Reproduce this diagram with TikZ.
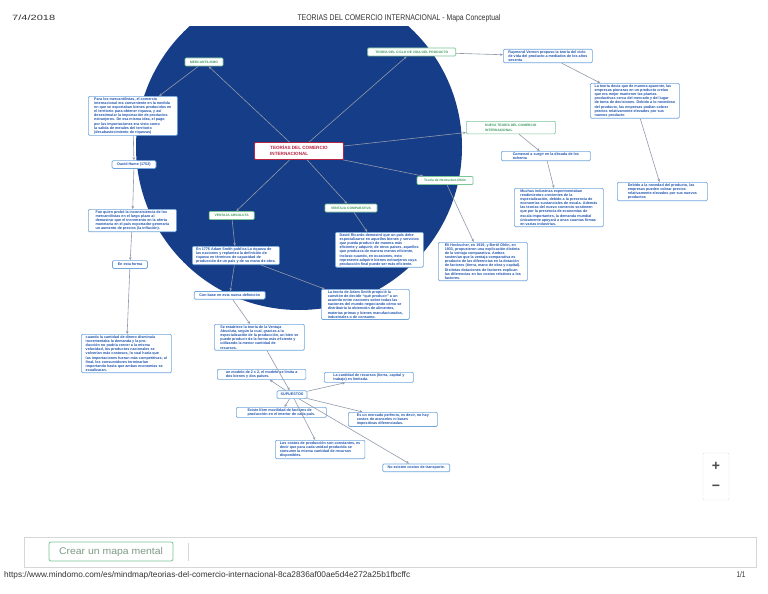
\documentclass[tikz,border=0pt]{standalone}
\usepackage{fontspec}
\setmainfont{Liberation Sans}
\usetikzlibrary{arrows.meta}
\definecolor{circ}{HTML}{163D87}
\definecolor{boxc}{HTML}{6FA6DE}
\definecolor{txtc}{HTML}{1F55B0}
\definecolor{grc}{HTML}{7CC596}
\definecolor{grt}{HTML}{3A9A5E}
\definecolor{redc}{HTML}{B82543}
\definecolor{lnc}{HTML}{9199AA}
\definecolor{hdr}{HTML}{333333}
\definecolor{barc}{HTML}{D6D6D6}
\definecolor{btnt}{HTML}{7E9A87}
\begin{document}
\begin{tikzpicture}[x=1pt,y=-1pt,
  bx/.style={draw=boxc, fill=white, rounded corners=1.2pt, line width=0.7pt,
    font=\fontsize{3.7}{4.15}\selectfont\bfseries, text=txtc, align=left,
    inner xsep=2.2pt, inner ysep=1.2pt, anchor=north west, minimum width=#1},
  bx/.default=80,
  bxs/.style={bx=#1, anchor=center, align=center, minimum height=7.8pt},
  gl/.style={draw=grc, fill=white, rounded corners=1pt, line width=0.7pt,
    font=\fontsize{3.3}{4.1}\selectfont\bfseries, text=grt, align=center,
    minimum width=#1, minimum height=8pt, inner sep=1pt},
  cn/.style={draw=lnc, line width=0.6pt, -{Stealth[length=3pt,width=2.6pt]}},
]
\useasboundingbox (0,0) rectangle (768,594);
\fill[white] (0,0) rectangle (768,594);
\begin{scope}
  \clip (0,27) rectangle (768,594);
  \fill[circ] (299,147) circle[radius=163pt];
\end{scope}

% header / footer
\node[anchor=west, text=hdr, inner sep=0] (date) at (12,18) {\resizebox{43pt}{5.5pt}{7/4/2018}};
\node[text=hdr, inner sep=0] (title) at (399,18) {\resizebox{203pt}{6pt}{TEORIAS DEL COMERCIO INTERNACIONAL - Mapa Conceptual}};
\node[anchor=west, text=hdr, inner sep=0] (url) at (4,575) {\resizebox{406pt}{6pt}{https://www.mindomo.com/es/mindmap/teorias-del-comercio-internacional-8ca2836af00ae5d4e272a25b1fbcffc}};
\node[text=hdr, inner sep=0] (pg) at (741,575) {\resizebox{9pt}{6pt}{1/1}};

\draw[barc, line width=0.8pt] (24,537) rectangle (756,567);
\node[draw=grc, rounded corners=2pt, line width=0.8pt, minimum width=124pt, minimum height=19pt, inner sep=0, text=btnt] (btn) at (111,551.5) {\resizebox{104pt}{7pt}{Crear un mapa mental}};
\draw[barc, line width=0.8pt] (188,543) -- (188,561);

\draw[black!12, fill=white, rounded corners=1pt] (703,453) rectangle (729,500);
\node[text=black!70, font=\fontsize{14}{14}\selectfont\bfseries] (plus) at (716,466) {+};
\node[text=black!70, font=\fontsize{14}{14}\selectfont\bfseries] (minus) at (716,488) {−};

% central
\node[draw=redc, fill=white, line width=0.9pt, rounded corners=1pt, text=redc,
  font=\fontsize{4.6}{6}\selectfont\bfseries, align=left, anchor=north west,
  minimum width=89pt, minimum height=17pt, inner xsep=4pt] (central) at (254,142)
  {TEORÍAS DEL COMERCIO\\INTERNACIONAL};

% green labels
\node[gl=38] (merc) at (204,62) {MERCANTILISMO};
\node[gl=88] (ciclo) at (411.7,52) {TEORÍA DEL CICLO DE VIDA DEL PRODUCTO};
\node[gl=89, anchor=north west, align=left, minimum height=12.5pt, inner xsep=3pt] (nueva) at (466,121) {NUEVA TEORÍA DEL COMERCIO\\INTERNACIONAL};
\node[gl=56] (heck) at (445,180.5) {Teoría de Heckscher-Ohlin};
\node[gl=45] (vabs) at (231.7,215.5) {VENTAJA ABSOLUTA};
\node[gl=52] (vcomp) at (351,208) {VENTAJA COMPARATIVA};

% blue boxes
\node[bx=89] (paralos) at (88,96) {Para los mercantilistas, el comercio\\
internacional era conveniente en la medida\\
en que se exportaban bienes producidos en\\
el territorio para obtener riqueza, y así\\
desestimular la importación de productos\\
extranjeros. De esa misma idea, el pago\\
por las importaciones era visto como\\
la salida de metales del territorio\\
(desabastecimiento de riquezas)};
\node[bxs=44] (hume) at (134,164.5) {David Hume (1752)};
\node[bx=88] (fue) at (88,209) {Fue quien probó la inconsistencia de los\\
mercantilistas en el largo plazo al\\
demostrar que el incremento en la oferta\\
monetaria en el país exportador generaría\\
un aumento de precios (la inflación).};
\node[bxs=35] (forma) at (130,264.5) {En esta forma};
\node[bx=90] (cuando) at (81,334) {cuando la cantidad de dinero disminuía\\
incrementaba la demanda y la pro-\\
ducción no podría crecer a la misma\\
velocidad, los productos nacionales se\\
volverían más costosos, lo cual haría que\\
las importaciones fueran más competitivas; al\\
final, los consumidores terminarían\\
importando hasta que ambas economías se\\
ecualizaran.};

\node[bx=89] (raymond) at (503,49) {Raymond Vernon propuso la teoría del ciclo\\
de vida del producto a mediados de los años\\
sesenta};
\node[bx=89] (decia) at (590,83) {La teoría decía que de manera aparente, las\\
empresas pioneras en un producto creían\\
que era mejor mantener las plantas\\
productivas cerca del mercado y del lugar\\
de toma de decisiones. Debido a lo novedoso\\
del producto, las empresas podían cobrar\\
precios relativamente elevados por sus\\
nuevos producto};
\node[bx=90] (debido) at (617,182) {Debido a la novedad del producto, las\\
empresas pueden cobrar precios\\
relativamente elevados por sus nuevos\\
productos};

\node[bx=89] (comenzo) at (501,151) {Comenzó a surgir en la década de los\\ochenta};
\node[bx=89] (muchas) at (514,188) {Muchas industrias experimentaban\\
rendimientos crecientes de la\\
especialización, debido a la presencia de\\
economías sustanciales de escala. Además\\
las teorías del nuevo comercio sostienen\\
que por la presencia de economías de\\
escala importantes, la demanda mundial\\
únicamente apoyará a unas cuantas firmas\\
en varias industrias.};
\node[bx=89] (eli) at (438,242) {Eli Heckscher, en 1919, y Bertil Ohlin, en\\
1933, propusieron una explicación distinta\\
de la ventaja comparativa. Ambos\\
sostenían que la ventaja comparativa es\\
producto de las diferencias en la dotación\\
de factores (tierra, mano de obra y capital).\\
Distintas dotaciones de factores explican\\
las diferencias en los costos relativos a los\\
factores.};

\node[bx=87] (en1776) at (192,246) {En 1776 Adam Smith publica La riqueza de\\
las naciones y replantea la definición de\\
riqueza en términos de capacidad de\\
producción de un país y de su mano de obra.};
\node[bxs=71] (conbase) at (229.7,295.3) {Con base en esta nueva definición};
\node[bx=88] (ricardo) at (335,232) {David Ricardo demostró que un país debe\\
especializarse en aquellos bienes y servicios\\
que pueda producir de manera más\\
eficiente y adquirir, de otros países, aquellos\\
que produzca de manera menos eficiente,\\
incluso cuando, en ocasiones, esto\\
represente adquirir bienes extranjeros cuya\\
producción final puede ser más eficiente.};
\node[bx=88] (smith) at (321,289) {La teoría de Adam Smith propició la\\
cuestión de decidir “qué producir” a un\\
acuerdo entre naciones sobre todas las\\
naciones del mundo negociando cómo se\\
distribuiría la obtención de alimentos,\\
materias primas y bienes manufacturados,\\
industriales o de consumo.};
\node[bx=90] (seest) at (214,324) {Se establece la teoría de la Ventaja\\
Absoluta, según la cual, gracias a la\\
especialización de la producción, un bien se\\
puede producir de la forma más eficiente y\\
utilizando la menor cantidad de\\
recursos.};
\node[bx=88.5] (modelo) at (217,369) {un modelo de 2 x 2, el modelo se limita a\\dos bienes y dos países.};
\node[bxs=30] (sup) at (292,394.7) {SUPUESTOS};
\node[bx=89] (cantidad) at (324,372) {La cantidad de recursos (tierra, capital y\\trabajo) es limitada.};
\node[bx=90] (existe) at (236,407) {Existe libre movilidad de factores de\\producción en el interior de cada país.};
\node[bx=89] (mercado) at (348,412) {Es un mercado perfecto, es decir, no hay\\costos de aranceles ni bases\\impositivas diferenciadas.};
\node[bx=89.5] (costos) at (275,440) {Los costos de producción son constantes, es\\decir que para cada unidad producida se\\consume la misma cantidad de recursos\\disponibles.};
\node[bxs=67] (noexisten) at (416.3,467.8) {No existen costos de transporte.};

% connectors
\draw[cn] (central) -- (merc);
\draw[cn] (central) -- (ciclo);
\draw[cn] (central) -- (nueva);
\draw[cn] (central) -- (heck);
\draw[cn] (central) -- (vabs);
\draw[cn] (central) -- (vcomp);
\draw[cn] (merc) -- (paralos);
\draw[cn] (paralos) -- (hume);
\draw[cn] (hume) -- (fue);
\draw[cn] (fue) -- (forma);
\draw[cn] (forma) -- (cuando);
\draw[cn] (ciclo) -- (raymond);
\draw[cn] (raymond) -- (decia);
\draw[cn] (decia) -- (debido);
\draw[cn] (nueva) -- (comenzo);
\draw[cn] (comenzo) -- (muchas);
\draw[cn] (heck) -- (eli);
\draw[cn] (vabs) -- (en1776);
\draw[cn] (en1776) -- (conbase);
\draw[cn] (en1776) -- (smith);
\draw[cn] (vcomp) -- (ricardo);
\draw[cn] (conbase) -- (seest);
\draw[cn] (seest) -- (sup);
\draw[cn] (sup) -- (modelo);
\draw[cn] (sup) -- (cantidad);
\draw[cn] (sup) -- (existe);
\draw[cn] (sup) -- (costos);
\draw[cn] (sup) -- (mercado);
\draw[cn] (sup) -- (noexisten);
\end{tikzpicture}
\end{document}
